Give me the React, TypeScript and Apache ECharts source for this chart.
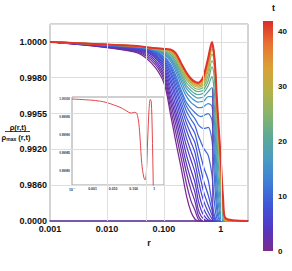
import React, { useEffect, useRef } from "react";
import * as echarts from "echarts";

// ---------- data ----------
const R_GRID = [0.001, 0.03, 0.06, 0.1, 0.13, 0.16, 0.2, 0.25, 0.3, 0.35, 0.4, 0.45, 0.5, 0.6, 0.7, 0.75, 0.8, 0.85, 0.9, 1.0, 1.1, 1.2, 3];

const T_VALUES = [0, 1, 2, 3, 4, 5, 6, 7, 8, 9, 10, 11, 12, 14, 16, 18, 20, 22, 25, 28, 31, 34, 37, 42];

const RHO_T0 = [1, 0.99944, 0.99883, 0.99765, 0.9955, 0.99288, 0.989, 0.6847, 0.2465, 0.0548, 0, 0, 0, 0, 0, 0, 0, 0, 0, 0, 0, 0, 0];
const RHO_T1 = [1, 0.99948, 0.99897, 0.9979, 0.99592, 0.99375, 0.99067, 0.98617, 0.5478, 0.3013, 0.0548, 0, 0, 0, 0, 0, 0, 0, 0, 0, 0, 0, 0];
const RHO_T2 = [1, 0.99952, 0.99908, 0.99808, 0.99633, 0.99453, 0.9921, 0.988, 0.8491, 0.5478, 0.1643, 0.0274, 0, 0, 0, 0, 0, 0, 0, 0, 0, 0, 0];
const RHO_T3 = [1, 0.99956, 0.99919, 0.99825, 0.99668, 0.99521, 0.99288, 0.9895, 0.98683, 0.7943, 0.3287, 0.1369, 0.0548, 0, 0, 0, 0, 0, 0, 0, 0, 0, 0];
const RHO_T4 = [1, 0.99958, 0.99928, 0.99842, 0.99703, 0.99571, 0.99365, 0.991, 0.9885, 0.9865, 0.5752, 0.3013, 0.1643, 0.0274, 0, 0, 0, 0, 0, 0, 0, 0, 0];
const RHO_T5 = [1, 0.99961, 0.99934, 0.99856, 0.99738, 0.99613, 0.99433, 0.99229, 0.99017, 0.98817, 0.8491, 0.5204, 0.3287, 0.1096, 0, 0, 0, 0, 0, 0, 0, 0, 0];
const RHO_T6 = [1, 0.99963, 0.9994, 0.99869, 0.99772, 0.99654, 0.99501, 0.99307, 0.99167, 0.98983, 0.987, 0.7943, 0.5478, 0.2465, 0.0548, 0, 0, 0, 0, 0, 0, 0, 0];
const RHO_T7 = [1, 0.99966, 0.99944, 0.99881, 0.998, 0.99689, 0.99557, 0.99385, 0.99268, 0.9915, 0.98883, 0.98667, 0.7943, 0.4382, 0.1643, 0.0548, 0, 0, 0, 0, 0, 0, 0];
const RHO_T8 = [1, 0.99967, 0.99948, 0.99892, 0.99822, 0.99724, 0.99599, 0.99453, 0.99346, 0.99268, 0.99067, 0.9885, 0.98667, 0.7121, 0.3013, 0.1369, 0.0274, 0, 0, 0, 0, 0, 0];
const RHO_T9 = [1, 0.99969, 0.99952, 0.999, 0.99839, 0.99751, 0.99633, 0.99511, 0.99424, 0.99356, 0.99229, 0.99067, 0.989, 0.98683, 0.493, 0.2465, 0.0822, 0, 0, 0, 0, 0, 0];
const RHO_T10 = [1, 0.9997, 0.99954, 0.99908, 0.99856, 0.99779, 0.99668, 0.99564, 0.99492, 0.99433, 0.99336, 0.99268, 0.9921, 0.991, 0.98767, 0.7121, 0.3013, 0.0822, 0, 0, 0, 0, 0];
const RHO_T11 = [1, 0.99971, 0.99956, 0.99914, 0.99867, 0.998, 0.99696, 0.99599, 0.9955, 0.99501, 0.99443, 0.99414, 0.99404, 0.99414, 0.99288, 0.98933, 0.7669, 0.3013, 0.0822, 0, 0, 0, 0];
const RHO_T12 = [1, 0.99972, 0.99957, 0.99919, 0.99878, 0.99817, 0.99717, 0.99626, 0.99585, 0.99557, 0.99531, 0.99521, 0.99531, 0.9955, 0.99482, 0.99268, 0.98767, 0.6026, 0.2191, 0, 0, 0, 0];
const RHO_T14 = [1, 0.99973, 0.99959, 0.99928, 0.99894, 0.99839, 0.99751, 0.99668, 0.99626, 0.99606, 0.99592, 0.99592, 0.99599, 0.99619, 0.99599, 0.99443, 0.991, 0.98633, 0.493, 0.0548, 0, 0, 0];
const RHO_T16 = [1, 0.99974, 0.99961, 0.99933, 0.99906, 0.99856, 0.99779, 0.99696, 0.99661, 0.9964, 0.9963, 0.99633, 0.99637, 0.99668, 0.99668, 0.99571, 0.99317, 0.98883, 0.7943, 0.1643, 0, 0, 0];
const RHO_T18 = [1, 0.99975, 0.99962, 0.99939, 0.99914, 0.99869, 0.998, 0.99724, 0.99689, 0.99668, 0.99658, 0.99661, 0.99668, 0.99703, 0.99731, 0.99654, 0.99463, 0.9915, 0.98717, 0.3561, 0, 0, 0];
const RHO_T20 = [1, 0.99976, 0.99963, 0.99943, 0.99922, 0.99883, 0.99817, 0.99744, 0.9971, 0.99689, 0.99682, 0.99685, 0.99696, 0.99744, 0.99806, 0.99744, 0.99606, 0.99336, 0.98983, 0.6299, 0.0822, 0, 0];
const RHO_T22 = [1, 0.99976, 0.99964, 0.99946, 0.99931, 0.99894, 0.99831, 0.99765, 0.99731, 0.9971, 0.99703, 0.99706, 0.99717, 0.99779, 0.99861, 0.99828, 0.9971, 0.99501, 0.99239, 0.986, 0.2191, 0, 0];
const RHO_T25 = [1, 0.99977, 0.99964, 0.9995, 0.99939, 0.99906, 0.99844, 0.99786, 0.99748, 0.99727, 0.9972, 0.99724, 0.99738, 0.99811, 0.99894, 0.99878, 0.99793, 0.9954, 0.99268, 0.98683, 0.2739, 0, 0];
const RHO_T28 = [1, 0.99977, 0.99965, 0.99953, 0.99944, 0.99914, 0.99856, 0.998, 0.99762, 0.99741, 0.99734, 0.99738, 0.99758, 0.99839, 0.99933, 0.99911, 0.99822, 0.99585, 0.99336, 0.98767, 0.3561, 0.0137, 0];
const RHO_T31 = [1, 0.99978, 0.99966, 0.99956, 0.9995, 0.99922, 0.99864, 0.99808, 0.99772, 0.99751, 0.99744, 0.99748, 0.99772, 0.99861, 0.99961, 0.99933, 0.99833, 0.99613, 0.99385, 0.9885, 0.4108, 0.0274, 0];
const RHO_T34 = [1, 0.99978, 0.99966, 0.99958, 0.99953, 0.99928, 0.99872, 0.99817, 0.99779, 0.99758, 0.99751, 0.99758, 0.99786, 0.99878, 0.99978, 0.99944, 0.99839, 0.99633, 0.99424, 0.98917, 0.4656, 0.0411, 0];
const RHO_T37 = [1, 0.99978, 0.99967, 0.99959, 0.99956, 0.99933, 0.99878, 0.99822, 0.99786, 0.99765, 0.99758, 0.99769, 0.998, 0.99894, 0.99989, 0.9995, 0.99844, 0.99647, 0.99453, 0.98967, 0.5204, 0.0548, 0];
const RHO_T42 = [1, 0.99978, 0.99967, 0.99961, 0.99958, 0.99939, 0.99883, 0.99828, 0.99793, 0.99772, 0.99765, 0.99779, 0.99811, 0.99911, 1.0, 0.9995, 0.9985, 0.99661, 0.99482, 0.99017, 0.5752, 0.0822, 0];

const CURVES = [RHO_T0, RHO_T1, RHO_T2, RHO_T3, RHO_T4, RHO_T5, RHO_T6, RHO_T7, RHO_T8, RHO_T9, RHO_T10, RHO_T11, RHO_T12, RHO_T14, RHO_T16, RHO_T18, RHO_T20, RHO_T22, RHO_T25, RHO_T28, RHO_T31, RHO_T34, RHO_T37, RHO_T42];

// spike of the t = 0 profile at r ~ 0.72
const SPIKE_R = [0.72, 0.72];
const SPIKE_V = [0, 0.99724];

// inset: last profile, fine scale
const INSET_R = [0.0001, 0.0008, 0.0024, 0.005, 0.0103, 0.0216, 0.037, 0.058, 0.078, 0.112, 0.143, 0.179, 0.208, 0.248, 0.31, 0.36, 0.415, 0.48, 0.56, 0.645, 0.72, 0.8, 0.9, 1.0];
const INSET_V = [1.0, 0.999997, 0.999994, 0.99999, 0.999984, 0.999977, 0.99997, 0.999963, 0.999961, 0.999963, 0.99996, 0.999932, 0.999886, 0.999821, 0.999783, 0.999775, 0.999794, 0.999886, 0.99997, 0.999999, 0.999993, 0.999914, 0.999756, 0.9995];

const Y_TICK_VALUES = [0, 0.986, 0.992, 0.9955, 0.998, 1.0];
const Y_TICK_LABELS = ["0.0000", "0.9860", "0.9920", "0.9955", "0.9980", "1.0000"];
const X_TICKS = [0.001, 0.01, 0.1, 1];
const X_TICK_LABELS = ["0.001", "0.010", "0.100", "1"];
const X_GRID_LINES = [0.005, 0.01, 0.05, 0.1, 0.5, 1];
const INSET_X_TICKS = [0.0001, 0.001, 0.01, 0.1, 1];
const INSET_X_LABELS = ["10{sup|-4}", "0.001", "0.010", "0.100", "1"];
const INSET_Y_TICKS = [0.9998, 0.99985, 0.9999, 0.99995, 1.0];
const T_MAX = 42;
const COLORBAR_TICKS = [0, 10, 20, 30, 40];

const RAINBOW = ["#7a2b8f", "#5338c4", "#4056d8", "#3f7fd6", "#4a9cc2", "#5eaa95", "#8ab46a", "#b6b145", "#dba037", "#e87232", "#dc2b2b"];

const FONT = "'Liberation Sans', Arial, sans-serif";

// ---------- helpers ----------
function toAxis(v: number): number {
  const Y = Y_TICK_VALUES;
  if (v <= Y[0]) return 0;
  for (let i = 0; i < Y.length - 1; i++) {
    if (v <= Y[i + 1]) return i + (v - Y[i]) / (Y[i + 1] - Y[i]);
  }
  const n = Y.length - 1;
  return n + (v - Y[n]) / (Y[n] - Y[n - 1]);
}

function hexToRgb(h: string): number[] {
  const n = parseInt(h.slice(1), 16);
  return [(n >> 16) & 255, (n >> 8) & 255, n & 255];
}

function colorAt(t: number): string {
  const f = Math.max(0, Math.min(1, t / T_MAX)) * (RAINBOW.length - 1);
  const i = Math.min(Math.floor(f), RAINBOW.length - 2);
  const u = f - i;
  const a = hexToRgb(RAINBOW[i]);
  const b = hexToRgb(RAINBOW[i + 1]);
  const c = a.map((x, k) => Math.round(x + (b[k] - x) * u));
  return `rgb(${c[0]},${c[1]},${c[2]})`;
}

function matchTick(v: number, ticks: number[], labels: string[]): string {
  for (let i = 0; i < ticks.length; i++) {
    if (Math.abs(Math.log10(v) - Math.log10(ticks[i])) < 1e-6) return labels[i];
  }
  return "";
}

export default function App() {
  const ref = useRef<HTMLDivElement>(null);

  useEffect(() => {
    if (!ref.current) return;
    const chart = echarts.init(ref.current, undefined, { renderer: "svg" });

    const curveSeries: any[] = CURVES.map((vals, k) => {
      const t = T_VALUES[k];
      const isLast = t === T_MAX;
      return {
        type: "line",
        name: "t=" + t,
        xAxisIndex: 0,
        yAxisIndex: 0,
        data: R_GRID.map((r, i) => [r, toAxis(vals[i])]),
        showSymbol: false,
        symbol: "none",
        smooth: 0.3,
        silent: true,
        lineStyle: { color: isLast ? "#e0332b" : colorAt(t), width: isLast ? 2 : 1.25 },
      };
    });

    const spikeSeries = {
      type: "line",
      name: "spike",
      xAxisIndex: 0,
      yAxisIndex: 0,
      data: SPIKE_R.map((r, i) => [r, toAxis(SPIKE_V[i])]),
      showSymbol: false,
      symbol: "none",
      silent: true,
      lineStyle: { color: "#5a35b0", width: 1 },
    };

    const gridLineSeries = {
      type: "line",
      name: "grid",
      xAxisIndex: 0,
      yAxisIndex: 0,
      data: [[0.001, 0]],
      showSymbol: false,
      symbol: "none",
      silent: true,
      lineStyle: { width: 0 },
      markLine: {
        silent: true,
        symbol: ["none", "none"],
        label: { show: false },
        lineStyle: { color: "#dedede", width: 1, type: "solid" },
        data: X_GRID_LINES.map((x) => ({ xAxis: x })),
      },
    };

    const insetSeries = {
      type: "line",
      name: "inset",
      xAxisIndex: 1,
      yAxisIndex: 1,
      data: INSET_R.map((r, i) => [r, INSET_V[i]]),
      showSymbol: false,
      symbol: "none",
      smooth: 0.3,
      clip: true,
      silent: true,
      lineStyle: { color: "#e3474a", width: 1 },
    };

    const series = [gridLineSeries, ...curveSeries.slice(0, -1), spikeSeries, curveSeries[curveSeries.length - 1], insetSeries];

    const stops = RAINBOW.map((c, i) => ({ offset: i / (RAINBOW.length - 1), color: c }));
    const barTop = 21;
    const barH = 230;

    const graphic: any[] = [
      {
        type: "rect",
        shape: { x: 263, y: barTop, width: 10, height: barH },
        style: { fill: new echarts.graphic.LinearGradient(0, 1, 0, 0, stops) },
        silent: true,
      },
      ...COLORBAR_TICKS.map((t) => ({
        type: "text",
        x: 278,
        y: barTop + barH - (t / T_MAX) * barH,
        style: { text: String(t), fill: "#111", font: `bold 8px ${FONT}`, verticalAlign: "middle", align: "left" },
        silent: true,
      })),
      {
        type: "text",
        x: 273.5,
        y: 8,
        style: { text: "t", fill: "#111", font: `bold 9px ${FONT}`, verticalAlign: "middle", align: "center" },
      },
      {
        type: "text",
        x: 18,
        y: 127,
        style: { text: "ρ(r,t)", fill: "#111", font: `bold 7.5px ${FONT}`, verticalAlign: "middle", align: "center" },
      },
      {
        type: "line",
        shape: { x1: 5, y1: 131.5, x2: 30, y2: 131.5 },
        style: { stroke: "#111", lineWidth: 0.8 },
      },
      {
        type: "text",
        x: 16,
        y: 137,
        style: {
          text: "ρ{sub|max} (r,t)",
          fill: "#111",
          font: `bold 7.5px ${FONT}`,
          verticalAlign: "middle",
          align: "center",
          rich: { sub: { font: `bold 5px ${FONT}`, fill: "#111", padding: [3, 0, 0, 0] } },
        },
      },
    ];

    const option: any = {
      animation: false,
      grid: [
        { left: 50, top: 24, right: 44, bottom: 50, show: true, borderColor: "#a8a8a8", borderWidth: 1, backgroundColor: "transparent" },
        { left: 72, top: 97, width: 92, height: 88, show: true, borderColor: "#a0a0a0", borderWidth: 1, backgroundColor: "transparent" },
      ],
      xAxis: [
        {
          gridIndex: 0,
          type: "log",
          logBase: 10,
          min: 0.001,
          max: 3,
          axisLine: { show: true, onZero: false, lineStyle: { color: "#5b2d9c", width: 1.5 } },
          axisTick: { show: false },
          splitLine: { show: false },
          axisLabel: {
            formatter: (v: number) => matchTick(v, X_TICKS, X_TICK_LABELS),
            color: "#111",
            fontWeight: "bold",
            fontSize: 9,
            fontFamily: FONT,
            margin: 3,
            showMaxLabel: false,
          },
          name: "r",
          nameLocation: "middle",
          nameGap: 17,
          nameTextStyle: { color: "#111", fontWeight: "bold", fontSize: 9, fontFamily: FONT },
        },
        {
          gridIndex: 1,
          type: "log",
          logBase: 10,
          min: 0.0001,
          max: 3,
          axisLine: { show: false },
          axisTick: { show: false },
          splitLine: { show: false },
          axisLabel: {
            formatter: (v: number) => matchTick(v, INSET_X_TICKS, INSET_X_LABELS),
            color: "#333",
            fontWeight: "bold",
            fontSize: 3.5,
            fontFamily: FONT,
            margin: 2,
            showMaxLabel: false,
            rich: { sup: { fontSize: 2.5, fontWeight: "bold", color: "#333", padding: [0, 0, 2, 0] } },
          },
        },
      ],
      yAxis: [
        {
          gridIndex: 0,
          type: "value",
          min: 0,
          max: 5.5,
          interval: 1,
          axisLine: { show: false },
          axisTick: { show: false },
          splitLine: { show: true, lineStyle: { color: "#dedede", width: 1 } },
          axisLabel: {
            formatter: (v: number) => (Number.isInteger(v) && v < Y_TICK_LABELS.length ? Y_TICK_LABELS[v] : ""),
            color: "#111",
            fontWeight: "bold",
            fontSize: 9,
            fontFamily: FONT,
            margin: 3,
          },
        },
        {
          gridIndex: 1,
          type: "value",
          min: 0.999761,
          max: 1.0000056,
          axisLine: { show: false },
          axisTick: { show: false },
          splitLine: { show: false },
          axisLabel: {
            customValues: INSET_Y_TICKS,
            formatter: (v: number) => v.toFixed(5),
            color: "#333",
            fontWeight: "bold",
            fontSize: 3,
            fontFamily: FONT,
            margin: 2,
          },
        },
      ],
      series,
      graphic,
    };

    chart.setOption(option);
    return () => chart.dispose();
  }, []);

  return <div ref={ref} style={{ position: "absolute", left: 0, top: 0, width: 292, height: 271, background: "#fff" }} />;
}
